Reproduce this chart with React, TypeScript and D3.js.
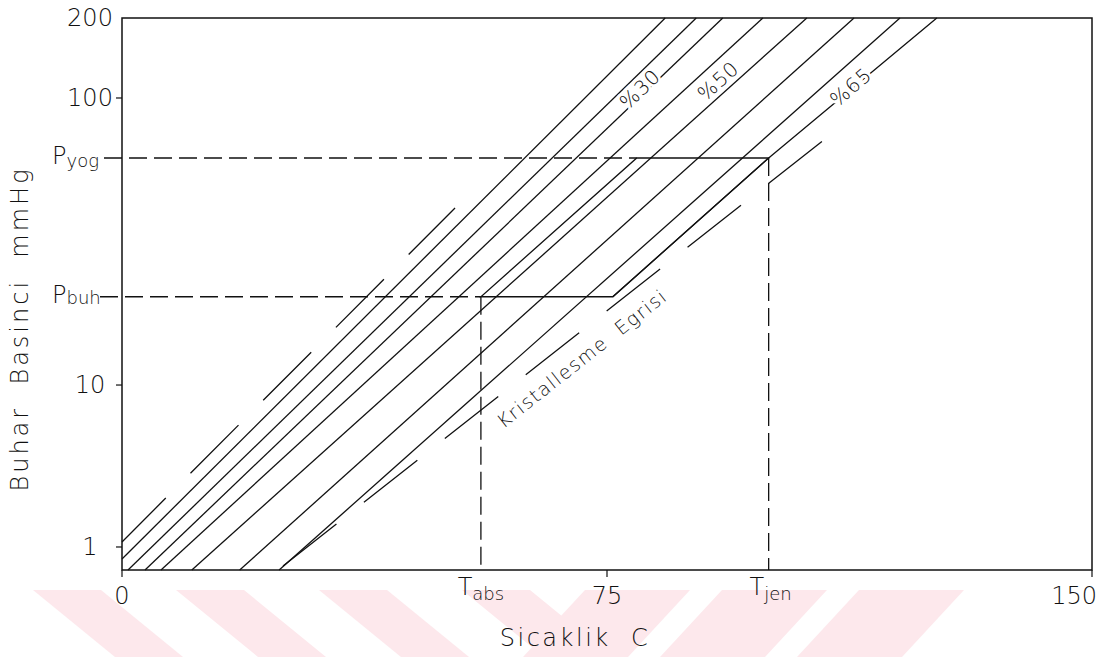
import React from 'react';
import * as d3 from 'd3';

// ---- data -------------------------------------------------------------
// Temperature axis (°C) and pressure axis (mmHg) ticks
const tempTicks: number[] = [0, 75, 150];
const pressureTicks: number[] = [1, 10, 100, 200];
// Pressure axis is logarithmic but drawn with its own decade breaks
const pressureDomain: number[] = [0.72, 1, 10, 100, 200];
const pressureStops: number[] = [1, 0.9583, 0.6649, 0.1449, 0];

// Constant-concentration vapour pressure lines: [T (°C), P (mmHg)]
const isoLine1: [number, number][] = [[0, 0.842], [84.0, 200]];
const isoLine2: [number, number][] = [[0.93, 0.72], [88.8, 200]];
const isoLine3: [number, number][] = [[3.56, 0.72], [92.9, 200]];
const isoLine4: [number, number][] = [[6.03, 0.72], [99.1, 200]];
const isoLine5: [number, number][] = [[10.8, 0.72], [105.9, 200]];
const isoLine6: [number, number][] = [[18.2, 0.72], [113.2, 200]];
const isoLine7: [number, number][] = [[24.3, 0.72], [120.3, 200]];
const isoLine8: [number, number][] = [[75.9, 20.3], [100, 61.8], [126.0, 200]];
const isoLines = [isoLine1, isoLine2, isoLine3, isoLine4, isoLine5, isoLine6, isoLine7, isoLine8];

// Pure water line and crystallisation curve
const waterLine: [number, number][] = [[0, 1.074], [51.5, 41.4]];
const crystallizationLine: [number, number][] = [[24.9, 0.762], [109.9, 75.5]];

// Operating points
const T_abs = 55.5;
const T_jen = 100;
const P_buh = 20.3;
const P_yog = 61.8;
const cycle: [number, number][] = [[T_abs, P_buh], [75.9, P_buh], [T_jen, P_yog], [79.6, P_yog]];

// Concentration labels: text, anchor [T, P], line used for orientation
const isoLabelTexts: string[] = ['%30', '%50', '%65'];
const isoLabelAnchors: [number, number][] = [[80.1, 108], [92.2, 116], [112.7, 110]];
const isoLabelLines: number[] = [2, 4, 7];

const crystalLabel = 'Kristallesme  Egrisi';
const crystalLabelAnchor: [number, number] = [71.1, 12.4];

// ---- layout -----------------------------------------------------------
const W = 1106;
const H = 657;
const plotLeft = 122;
const plotRight = 1092;
const plotTop = 18;
const plotBottom = 570;
const FONT = "'DejaVu Sans', 'Liberation Sans', sans-serif";

export default function App() {
  const x = d3.scaleLinear().domain([0, 150]).range([plotLeft, plotRight]);
  const y = d3
    .scaleLog()
    .domain(pressureDomain)
    .range(pressureStops.map((f) => plotTop + f * (plotBottom - plotTop)));

  const line = d3
    .line<[number, number]>()
    .x((d) => x(d[0]))
    .y((d) => y(d[1]));

  const angleOf = (pts: [number, number][]) => {
    const a = pts[0];
    const b = pts[pts.length - 1];
    return (Math.atan2(y(b[1]) - y(a[1]), x(b[0]) - x(a[0])) * 180) / Math.PI;
  };

  // faint diagonal stripes along the lower edge
  const stripes: string[] = [];
  const bandTop = 590;
  const bandBot = H;
  for (let i = 0; i < 4; i++) {
    const x0 = 33 + i * 143;
    stripes.push(`M${x0},${bandTop}L${x0 + 68},${bandTop}L${x0 + 68 + 82},${bandBot}L${x0 + 82},${bandBot}Z`);
  }
  for (let i = 0; i < 3; i++) {
    const x0 = 585 + i * 137;
    stripes.push(`M${x0},${bandTop}L${x0 + 105},${bandTop}L${x0 + 105 - 62},${bandBot}L${x0 - 62},${bandBot}Z`);
  }

  const stroke = '#111';

  return (
    <svg
      width={W}
      height={H}
      viewBox={`0 0 ${W} ${H}`}
      style={{ position: 'absolute', left: 0, top: 0, display: 'block', background: '#fff' }}
      fontFamily={FONT}
    >
      <g>
        {stripes.map((d, i) => (
          <path key={i} d={d} fill="#fde8ec" />
        ))}
      </g>

      {/* plot frame */}
      <rect
        x={plotLeft}
        y={plotTop}
        width={plotRight - plotLeft}
        height={plotBottom - plotTop}
        fill="none"
        stroke={stroke}
        strokeWidth={1.5}
      />

      {/* y ticks */}
      {pressureTicks.map((p) => (
        <g key={'yt' + p}>
          {p !== 200 && <line x1={plotLeft - 6} x2={plotLeft} y1={y(p)} y2={y(p)} stroke={stroke} strokeWidth={1.2} />}
          <text x={plotLeft - 32} y={y(p)} textAnchor="middle" dominantBaseline="central" fontSize={24} fontWeight={300} fill="#111">
            {p}
          </text>
        </g>
      ))}

      {/* x ticks */}
      {tempTicks.map((t, i) => (
        <g key={'xt' + t}>
          <line x1={x(t)} x2={x(t)} y1={plotBottom} y2={plotBottom + 7} stroke={stroke} strokeWidth={1.2} />
          <text
            x={i === tempTicks.length - 1 ? x(t) + 5 : x(t)}
            y={plotBottom + 34}
            textAnchor={i === tempTicks.length - 1 ? 'end' : 'middle'}
            fontSize={24}
            fontWeight={300}
            fill="#111"
          >
            {t}
          </text>
        </g>
      ))}

      {/* constant-concentration lines */}
      <g fill="none" stroke={stroke} strokeWidth={1.3}>
        {isoLines.map((pts, i) => (
          <path key={i} d={line(pts) || ''} />
        ))}
      </g>

      {/* water line and crystallisation curve (long dashes) */}
      <path d={line(waterLine) || ''} fill="none" stroke={stroke} strokeWidth={1.3} strokeDasharray="68 35" strokeDashoffset={6} />
      <path d={line(crystallizationLine) || ''} fill="none" stroke={stroke} strokeWidth={1.3} strokeDasharray="68 35" />

      {/* cycle */}
      <path d={(line(cycle) || '') + 'Z'} fill="none" stroke={stroke} strokeWidth={1.3} />

      {/* dashed reference lines */}
      <g fill="none" stroke={stroke} strokeWidth={1.3} strokeDasharray="18 7">
        <line x1={plotLeft - 18} x2={x(cycle[3][0])} y1={y(P_yog)} y2={y(P_yog)} />
        <line x1={plotLeft - 22} x2={x(T_abs)} y1={y(P_buh)} y2={y(P_buh)} />
        <line x1={x(T_abs)} x2={x(T_abs)} y1={y(P_buh)} y2={plotBottom} />
        <line x1={x(T_jen)} x2={x(T_jen)} y1={y(P_yog)} y2={plotBottom} />
      </g>

      {/* concentration labels */}
      {isoLabelTexts.map((txt, i) => {
        const [t, p] = isoLabelAnchors[i];
        const ang = angleOf(isoLines[isoLabelLines[i]]);
        return (
          <text
            key={txt}
            transform={`translate(${x(t)},${y(p)}) rotate(${ang})`}
            textAnchor="middle"
            dominantBaseline="central"
            fontSize={20}
            fontWeight={300}
            letterSpacing={1}
            fill="#111"
            stroke="#fff"
            strokeWidth={6}
            style={{ paintOrder: 'stroke' }}
          >
            {txt}
          </text>
        );
      })}

      {/* crystallisation curve label */}
      <text
        transform={`translate(${x(crystalLabelAnchor[0])},${y(crystalLabelAnchor[1])}) rotate(${angleOf(crystallizationLine)})`}
        textAnchor="middle"
        dominantBaseline="central"
        fontSize={19}
        fontWeight={300}
        letterSpacing={1.5}
        fill="#111"
        style={{ whiteSpace: 'pre' }}
      >
        {crystalLabel}
      </text>

      {/* pressure level labels */}
      <text x={52} y={y(P_yog) + 6} fontSize={24} fontWeight={300} fill="#111">
        P<tspan fontSize={18} dy={3}>yog</tspan>
      </text>
      <text x={52} y={y(P_buh) + 6} fontSize={24} fontWeight={300} fill="#111">
        P<tspan fontSize={18} dy={1}>buh</tspan>
      </text>

      {/* temperature level labels */}
      <text x={x(T_abs)} y={plotBottom + 25} textAnchor="middle" fontSize={24} fontWeight={300} fill="#111">
        T<tspan fontSize={18} dy={5}>abs</tspan>
      </text>
      <text x={x(T_jen) + 2} y={plotBottom + 25} textAnchor="middle" fontSize={24} fontWeight={300} fill="#111">
        T<tspan fontSize={18} dy={5}>jen</tspan>
      </text>

      {/* axis titles */}
      <text
        x={575}
        y={646}
        textAnchor="middle"
        fontSize={24}
        fontWeight={300}
        letterSpacing={2.5}
        fill="#111"
        style={{ whiteSpace: 'pre' }}
      >
        {'Sicaklik  C'}
      </text>
      <text
        transform={`translate(28,329) rotate(-90)`}
        textAnchor="middle"
        fontSize={24}
        fontWeight={300}
        letterSpacing={3}
        fill="#111"
        style={{ whiteSpace: 'pre' }}
      >
        {'Buhar  Basinci  mmHg'}
      </text>
    </svg>
  );
}
